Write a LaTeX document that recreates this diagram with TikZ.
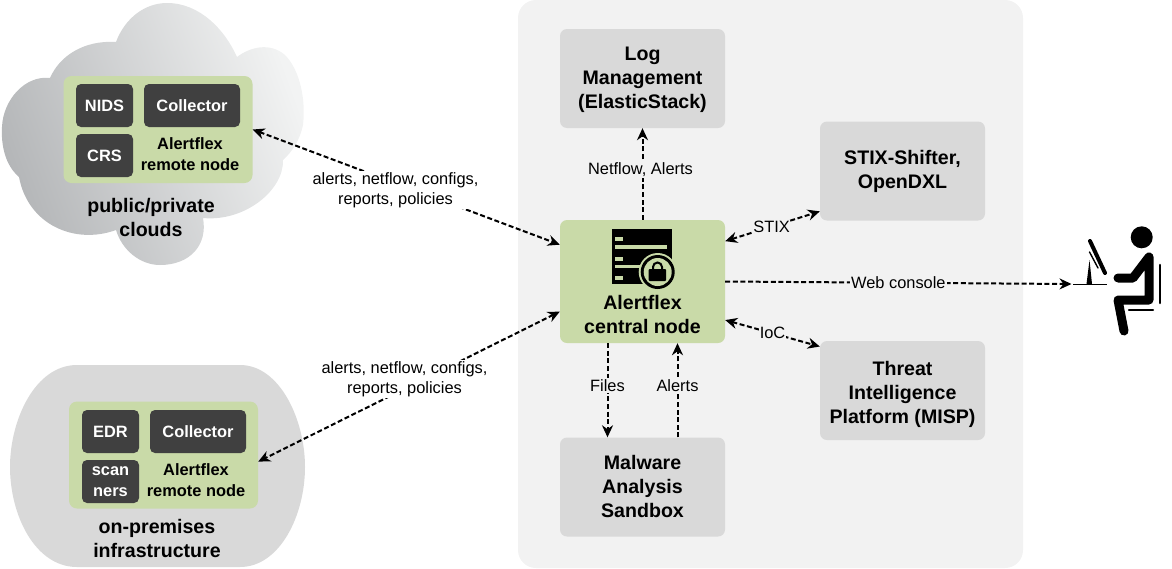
\documentclass[tikz,border=0pt]{standalone}
\usepackage{fontspec}
\setmainfont{Liberation Sans}
\usetikzlibrary{arrows.meta}
\definecolor{leaf}{HTML}{C9DAA8}
\definecolor{panelgrey}{HTML}{F2F2F2}
\definecolor{boxgrey}{HTML}{D9D9D9}
\definecolor{coal}{HTML}{404040}
\definecolor{cloudlow}{HTML}{B4B6B8}
\definecolor{cloudhigh}{HTML}{F2F3F3}

\begin{document}
\begin{tikzpicture}[x=1pt, y=-1pt,
  bigfont/.style={font=\fontsize{19.6}{24}\selectfont\bfseries},
  smallbold/.style={font=\fontsize{16.4}{21}\selectfont\bfseries},
  service/.style={fill=boxgrey, rounded corners=7pt, minimum width=165pt, minimum height=99pt, align=center, inner sep=0pt, bigfont},
  sensor/.style={fill=coal, text=white, rounded corners=5pt, minimum height=43pt, align=center, inner sep=0pt, smallbold},
  remote/.style={fill=leaf, rounded corners=8pt, minimum width=189pt, minimum height=107pt, inner sep=0pt},
  caption/.style={align=center, inner sep=0pt, bigfont},
  lbl/.style={font=\fontsize{16.4}{20}\selectfont, align=center, inner sep=1.5pt},
  link/.style={black, line width=2pt, dash pattern=on 5pt off 2.6pt, {Stealth[length=12pt,width=11pt]}-{Stealth[length=12pt,width=11pt]}},
  oneway/.style={black, line width=2pt, dash pattern=on 5pt off 2.6pt, -{Stealth[length=12pt,width=11pt]}}]

  \useasboundingbox (0,0) rectangle (1172,568);

  % Cloud and premises
  \shade[left color=cloudlow, right color=cloudhigh, shading angle=110]
    (50,78) .. controls (60,55) and (85,40) .. (116,42)
    .. controls (125,18) and (145,3) .. (167,3)
    .. controls (200,3) and (225,30) .. (237,57)
    .. controls (250,47) and (270,42) .. (285,55)
    .. controls (300,70) and (306,100) .. (303,125)
    .. controls (300,140) and (292,152) .. (283,160)
    .. controls (284,190) and (245,222) .. (203,218)
    .. controls (208,245) and (190,265) .. (160,265)
    .. controls (140,265) and (122,250) .. (116,230)
    .. controls (75,245) and (28,225) .. (19,177)
    .. controls (5,165) and (1,145) .. (2,127)
    .. controls (3,100) and (25,75) .. (50,78) -- cycle;
  \fill[boxgrey]
    (77,365) -- (240,365) .. controls (280,365) and (305,420) .. (305,467)
    .. controls (305,515) and (280,567) .. (240,567) -- (77,567)
    .. controls (35,567) and (10,515) .. (10,467)
    .. controls (10,420) and (35,365) .. (77,365) -- cycle;

  % Central panel
  \node[fill=panelgrey, rounded corners=18pt, minimum width=505pt, minimum height=568pt, inner sep=0pt] (panel) at (770.5,284) {};

  % Remote nodes
  \node[remote] (cloudnode) at (158,129.5) {};
  \node[sensor, minimum width=57pt] (nids) at (104.5,105.5) {NIDS};
  \node[sensor, minimum width=96pt] (collector) at (192,105.5) {Collector};
  \node[sensor, minimum width=57pt] (crs) at (104.5,155.5) {CRS};
  \node[smallbold, align=center, inner sep=0pt] (cloudtxt) at (190,154.5) {Alertflex\\remote node};
  \node[caption] (cloudcap) at (151,217) {public/private\\clouds};

  \node[remote] (premnode) at (163.5,455) {};
  \node[sensor, minimum width=57pt] (edr) at (110.5,431.5) {EDR};
  \node[sensor, minimum width=96pt] (premcollector) at (198,431.5) {Collector};
  \node[sensor, minimum width=57pt] (scanners) at (110.5,481.5) {scan\\ners};
  \node[smallbold, align=center, inner sep=0pt] (premtxt) at (196,480.5) {Alertflex\\remote node};
  \node[caption] (premcap) at (157,538.5) {on-premises\\infrastructure};

  % Services
  \node[service] (log) at (642.5,78.5) {\rule{0pt}{16pt}Log\\Management\\(ElasticStack)};
  \node[service] (stix) at (902.5,171) {STIX-Shifter,\\OpenDXL};
  \node[service] (misp) at (902.5,390.5) {\rule{0pt}{22pt}Threat\\Intelligence\\Platform (MISP)};
  \node[service] (sandbox) at (642.5,487) {Malware\\Analysis\\Sandbox\rule[-2pt]{0pt}{1pt}};
  \node[fill=leaf, rounded corners=7pt, minimum width=165pt, minimum height=123pt, inner sep=0pt] (central) at (642.5,281.5) {};
  \node[caption] (centraltxt) at (642.5,314) {Alertflex\\central node};

  % Server icon
  \fill[black] (612,229) rectangle (671.5,284);
  \fill[leaf] (615,245) rectangle (667,248.5);
  \fill[leaf] (615,264.5) rectangle (640,267.5);
  \foreach \y in {239,258.5,278}
    \fill[leaf] (615,\y-2) rectangle (623,\y+2);
  \fill[leaf] (657.7,272) circle (19);
  \fill[black] (657.7,272) circle (17);
  \fill[leaf] (657.7,272) circle (14);
  \draw[black, line width=2pt] (653,269) -- (653,267) arc[start angle=180, end angle=360, radius=4.5] -- (662,269);
  \fill[black, rounded corners=1pt] (648.5,269) rectangle (666,281);

  % Operator icon
  \fill[black] (1141.7,237.3) circle (11);
  \draw[black, line width=9pt, line cap=round, line join=round] (1118,278) -- (1133,278) -- (1149,257) -- (1149,300) -- (1118,300) -- (1124,331);
  \draw[black, line width=2.6pt, line cap=round] (1160,265) -- (1160,303);
  \draw[black, line width=2.4pt, line cap=round] (1129,310) -- (1153,310);
  \draw[black, line width=4pt, line cap=round] (1090,241) -- (1105,273);
  \draw[black, line width=1.4pt, line cap=round] (1089.5,252) -- (1098,268);
  \fill[black] (1086.5,284) -- (1089.5,260) -- (1092,284) -- cycle;
  \draw[black, line width=1pt] (1073,284) -- (1106.5,284);
  \coordinate (operator) at (1071.5,284);

  % Connectors
  \draw[link] (cloudnode.east) -- (central.156)
    node[lbl, fill=white, pos=.465, yshift=-7pt] (cloudlbl) {alerts, netflow, configs,\\reports, policies};
  \draw[link] (central.200) -- (premnode.-4)
    node[lbl, fill=white, pos=.515, yshift=10pt] (premlbl) {alerts, netflow, configs,\\reports, policies};
  \draw[oneway] (central.north) -- (log.south)
    node[lbl, fill=panelgrey, midway, xshift=-2pt, yshift=4pt] (netflowlbl) {Netflow, Alerts};
  \draw[oneway] ([xshift=-35pt]central.south) -- ([xshift=-35pt]sandbox.north)
    node[lbl, fill=panelgrey, midway, yshift=5pt] (fileslbl) {Files};
  \draw[oneway] ([xshift=35pt]sandbox.north) -- ([xshift=35pt]central.south)
    node[lbl, fill=panelgrey, midway, yshift=5pt] (alertslbl) {Alerts};
  \draw[link] (central.26) -- (stix.206.4)
    node[lbl, fill=panelgrey, inner sep=0.5pt, pos=.49] (stixlbl) {STIX};
  \draw[link] (central.-25) -- (misp.152)
    node[lbl, fill=panelgrey, inner sep=0.5pt, pos=.5] (ioclbl) {IoC};
  \draw[oneway] (central.east) -- (operator)
    node[lbl, fill=panelgrey, inner sep=1pt, pos=.5] (weblbl) {Web console};
\end{tikzpicture}
\end{document}
